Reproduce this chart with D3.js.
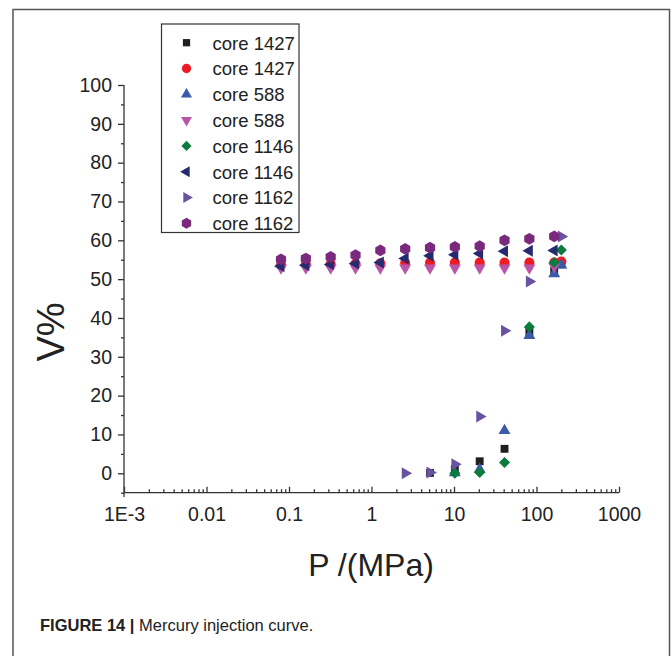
<!DOCTYPE html>
<html><head><meta charset="utf-8">
<script src="https://cdn.jsdelivr.net/npm/d3@7"></script>
<style>
html,body{margin:0;padding:0;background:#fff;}
svg{display:block;font-family:"Liberation Sans",Arial,sans-serif;}
</style></head>
<body>
<svg id="chart" width="672" height="656"></svg>
<script>
// ---- data ----
const xTickValues = [0.001, 0.01, 0.1, 1, 10, 100, 1000];
const xTickLabels = ["1E-3", "0.01", "0.1", "1", "10", "100", "1000"];
const yTickValues = [0, 10, 20, 30, 40, 50, 60, 70, 80, 90, 100];

const P_up = [0.08, 0.16, 0.32, 0.64, 1.28, 2.56, 5.12, 10.24, 20.48, 40.96, 81.92, 163.84, 200];

const p1427a = [5.12, 10.24, 20.48, 40.96, 81.92, 163.84, 200];
const v1427a = [0.1, 1.1, 3.1, 6.3, 36.4, 52.2, 53.8];
const p1427b = P_up;
const v1427b = [53.6, 53.8, 53.9, 54.0, 54.1, 54.2, 54.3, 54.3, 54.3, 54.3, 54.3, 54.3, 54.5];
const p588a = [10.24, 20.48, 40.96, 81.92, 163.84, 200];
const v588a = [0.1, 1.0, 11.0, 35.5, 51.4, 53.6];
const p588b = P_up.slice(0, 12);
const v588b = [52.9, 52.9, 52.9, 52.9, 52.9, 52.9, 52.9, 52.9, 52.9, 52.9, 52.9, 53.3];
const p1146a = [10.24, 20.48, 40.96, 81.92, 163.84, 200];
const v1146a = [0.0, 0.2, 2.8, 37.7, 54.3, 57.5];
const p1146b = P_up.slice(0, 12);
const v1146b = [53.3, 53.6, 53.8, 54.0, 54.3, 55.3, 56.0, 56.3, 56.6, 57.2, 57.3, 57.4];
const p1162a = [2.56, 5.12, 10.24, 20.48, 40.96, 81.92, 200];
const v1162a = [0.0, 0.2, 2.3, 14.6, 36.7, 49.4, 61.0];
const p1162b = P_up.slice(0, 12);
const v1162b = [55.1, 55.3, 55.7, 56.2, 57.4, 57.8, 58.1, 58.3, 58.5, 60.0, 60.4, 61.0];

const seriesNames = ["core 1427", "core 1427", "core 588", "core 588", "core 1146", "core 1146", "core 1162", "core 1162"];
const seriesP = [p1427a, p1427b, p588a, p588b, p1146a, p1146b, p1162a, p1162b];
const seriesV = [v1427a, v1427b, v588a, v588b, v1146a, v1146b, v1162a, v1162b];

// ---- styles ----
const hexagon = {
  draw(ctx, size) {
    const r = Math.sqrt(size / (1.5 * Math.sqrt(3)));
    for (let i = 0; i < 6; i++) {
      const a = Math.PI / 2 + i * Math.PI / 3;
      const x = r * Math.cos(a), y = r * Math.sin(a);
      if (i === 0) ctx.moveTo(x, y); else ctx.lineTo(x, y);
    }
    ctx.closePath();
  }
};
const diamond = d3.symbolDiamond2 || d3.symbolDiamond;
const styles = [
  {type: d3.symbolSquare, size: 62, rot: 0, color: "#231f20"},
  {type: d3.symbolCircle, size: 80, rot: 0, color: "#ed1c24"},
  {type: d3.symbolTriangle, size: 62, rot: 0, color: "#3b5aa8"},
  {type: d3.symbolTriangle, size: 62, rot: 180, color: "#b955a8"},
  {type: diamond, size: 78, rot: 0, color: "#0b7c3e"},
  {type: d3.symbolTriangle, size: 62, rot: -90, color: "#262a6e"},
  {type: d3.symbolTriangle, size: 62, rot: 90, color: "#6a52a2"},
  {type: hexagon, size: 90, rot: 0, color: "#7a2a7d"}
];

const svg = d3.select("#chart");

// frame
svg.append("path").attr("d", "M13,660 V9.5 H669.5 V660")
  .attr("fill", "none").attr("stroke", "#555").attr("stroke-width", 1.5);

const x = d3.scaleLog().domain([1e-3, 1000]).range([124, 619]);
const y = d3.scaleLinear().domain([-5, 100]).range([492.7, 85]);

const axisColor = "#333";

// x axis
const gx = svg.append("g").attr("transform", "translate(0,492.7)");
const xMinor = [];
for (let e = -3; e < 3; e++) for (let m = 2; m <= 9; m++) xMinor.push(m * Math.pow(10, e));
gx.append("g").call(d3.axisBottom(x).tickValues(xMinor).tickSizeInner(-3.5).tickSizeOuter(0).tickFormat(""))
  .call(g => g.select(".domain").remove());
gx.append("g").call(d3.axisBottom(x).tickValues(xTickValues).tickSizeInner(-6).tickSizeOuter(0)
  .tickPadding(14).tickFormat((d, i) => xTickLabels[i]))
  .call(g => g.select(".domain").attr("d", "M124,0H619"));
gx.selectAll("line,path").attr("stroke", axisColor).attr("stroke-width", 1.3);
gx.selectAll("text").attr("font-size", 19.5).attr("fill", "#222").attr("font-family", "Liberation Sans, Arial, sans-serif");

// y axis
const gy = svg.append("g").attr("transform", "translate(124,0)");
const yMinor = d3.range(-5, 100, 10);
gy.append("g").call(d3.axisLeft(y).tickValues(yMinor).tickSizeInner(3).tickSizeOuter(0).tickFormat(""))
  .call(g => g.select(".domain").remove());
gy.append("g").call(d3.axisLeft(y).tickValues(yTickValues).tickSizeInner(6).tickSizeOuter(0).tickPadding(6))
  .call(g => g.select(".domain").attr("d", "M0,85V497"));
gy.selectAll("line,path").attr("stroke", axisColor).attr("stroke-width", 1.3);
gy.selectAll("text").attr("font-size", 19.5).attr("fill", "#222").attr("font-family", "Liberation Sans, Arial, sans-serif");

// axis titles
svg.append("text").attr("x", 371).attr("y", 576).attr("text-anchor", "middle")
  .attr("font-size", 32).attr("fill", "#222").text("P /(MPa)");
svg.append("text").attr("transform", "translate(64,332) rotate(-90)").attr("text-anchor", "middle")
  .attr("font-size", 38).attr("fill", "#222").text("V%");

// points
seriesP.forEach((ps, si) => {
  const st = styles[si];
  const sym = d3.symbol().type(st.type).size(st.size);
  svg.append("g").selectAll("path").data(ps.map((p, i) => [p, seriesV[si][i]])).join("path")
    .attr("d", sym)
    .attr("transform", d => `translate(${x(d[0])},${y(d[1])}) rotate(${st.rot})`)
    .attr("fill", st.color);
});

// legend
const lg = svg.append("g");
lg.append("rect").attr("x", 161.5).attr("y", 24).attr("width", 137.5).attr("height", 208.5)
  .attr("fill", "#fff").attr("stroke", "#333").attr("stroke-width", 1.2);
seriesNames.forEach((name, i) => {
  const cy = 42.7 + i * 25.8;
  const st = styles[i];
  lg.append("path").attr("d", d3.symbol().type(st.type).size(st.size * 0.85))
    .attr("transform", `translate(186.5,${cy}) rotate(${st.rot})`).attr("fill", st.color);
  lg.append("text").attr("x", 212.5).attr("y", cy + 6.8).attr("font-size", 18.5)
    .attr("fill", "#222").text(name);
});

// caption
const cap = svg.append("text").attr("x", 40).attr("y", 631).attr("font-size", 16.5).attr("fill", "#222");
cap.append("tspan").attr("font-weight", "bold").text("FIGURE 14 | ");
cap.append("tspan").text("Mercury injection curve.");
</script>
</body></html>
